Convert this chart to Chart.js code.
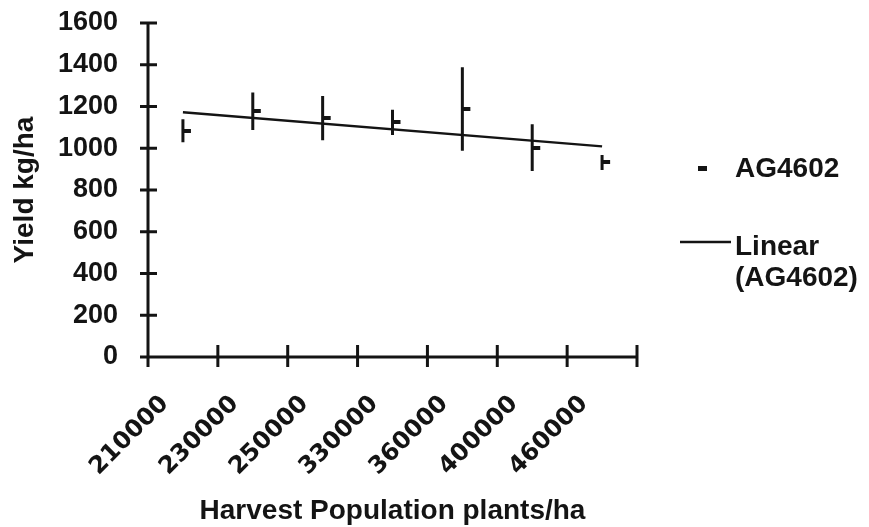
<!DOCTYPE html>
<html>
<head>
<meta charset="utf-8">
<script src="https://cdn.jsdelivr.net/npm/chart.js@4.4.0/dist/chart.umd.min.js"></script>
<style>
  html, body { margin: 0; padding: 0; background: #fff; }
  #wrap { width: 869px; height: 527px; }
</style>
</head>
<body>
<div id="wrap"><canvas id="chart" width="869" height="527"></canvas></div>
<script>
'use strict';

// ---------------------------------------------------------------------------
// データ
// ---------------------------------------------------------------------------

const populations = ['210000', '230000', '250000', '330000', '360000', '400000', '460000'];
const yieldMeans  = [1084, 1177, 1144, 1124, 1188, 1003, 932];
const yieldErrors = [55, 90, 106, 61, 200, 112, 36];
// trendline values read at the first and last population
const trendLabels = ['210000', '460000'];
const trendValues = [1173, 1009];

const yMin = 0, yMax = 1600, yStep = 200;

const INK = '#141414';
const SANS = '"Liberation Sans", Arial, sans-serif';

// ---------------------------------------------------------------------------
// マーカー（点の右に付く短いダッシュ）
// ---------------------------------------------------------------------------

function makeDash() {
    const c = document.createElement('canvas');
    c.width = 18; c.height = 4;
    const g = c.getContext('2d');
    g.fillStyle = INK;
    g.fillRect(9, 0, 8, 4);
    return c;
}

// ---------------------------------------------------------------------------
// プラグイン：軸・誤差棒・凡例
// ---------------------------------------------------------------------------

const axesPlugin = {
    id: 'crossAxes',
    afterDatasetsDraw(chart) {
        const { ctx, chartArea: a } = chart;
        const x = chart.scales.x, y = chart.scales.y;
        const y0 = y.getPixelForValue(0);
        ctx.save();
        ctx.strokeStyle = INK;
        ctx.lineWidth = 3;
        ctx.lineCap = 'butt';

        // y axis + crossing ticks
        ctx.beginPath();
        ctx.moveTo(a.left, y.getPixelForValue(yMax));
        ctx.lineTo(a.left, y0 + 10);
        for (let v = yMin; v <= yMax; v += yStep) {
            const py = y.getPixelForValue(v);
            ctx.moveTo(a.left - 8, py);
            ctx.lineTo(a.left + 9, py);
        }
        // x axis + crossing ticks at category boundaries
        ctx.moveTo(a.left, y0);
        ctx.lineTo(x.right, y0);
        const n = populations.length;
        for (let i = 1; i <= n; i++) {
            const px = x.left + i * x.width / n;
            ctx.moveTo(px, y0 - 12);
            ctx.lineTo(px, y0 + 10);
        }
        ctx.stroke();

        // error bars
        ctx.beginPath();
        yieldMeans.forEach((m, i) => {
            const px = x.getPixelForValue(i);
            ctx.moveTo(px, y.getPixelForValue(m + yieldErrors[i]));
            ctx.lineTo(px, y.getPixelForValue(m - yieldErrors[i]));
        });
        ctx.stroke();
        ctx.restore();
    },
    afterDraw(chart) {
        const { ctx } = chart;
        ctx.save();
        ctx.fillStyle = INK;
        ctx.strokeStyle = INK;
        ctx.font = 'bold 28px ' + SANS;
        ctx.textBaseline = 'middle';
        ctx.textAlign = 'left';

        const ds = chart.data.datasets;
        // series marker
        ctx.fillRect(698, 166, 9, 5);
        ctx.fillText(ds[0].label, 735, 169);
        // trendline entry
        ctx.lineWidth = 2.5;
        ctx.beginPath();
        ctx.moveTo(680, 242);
        ctx.lineTo(731, 242);
        ctx.stroke();
        ctx.fillText('Linear', 735, 247);
        ctx.fillText('(' + ds[0].label + ')', 735, 278);
        ctx.restore();
    },
};

// ---------------------------------------------------------------------------
// チャート
// ---------------------------------------------------------------------------

new Chart(document.getElementById('chart'), {
    type: 'line',
    data: {
        labels: populations,
        datasets: [
            {
                label: 'AG4602',
                data: yieldMeans,
                showLine: false,
                pointStyle: makeDash(),
                pointRadius: 5,
                order: 1,
            },
            {
                label: 'Linear (AG4602)',
                data: trendLabels.map((l, i) => ({ x: l, y: trendValues[i] })),
                borderColor: INK,
                borderWidth: 2.5,
                pointRadius: 0,
                tension: 0,
                fill: false,
                order: 2,
            },
        ],
    },
    options: {
        responsive: false,
        animation: false,
        layout: { padding: { top: 23, right: 232, left: 0, bottom: 0 } },
        plugins: {
            legend: { display: false },
            tooltip: { enabled: false },
        },
        scales: {
            x: {
                type: 'category',
                offset: true,
                grid: { display: false, drawTicks: false, offset: true },
                border: { display: false },
                ticks: {
                    color: INK,
                    font: { family: '"DejaVu Sans", Verdana, sans-serif', weight: 'bold', size: 24 },
                    maxRotation: 45,
                    minRotation: 45,
                    padding: 33,
                    labelOffset: -18,
                    autoSkip: false,
                },
                title: {
                    display: true,
                    text: 'Harvest Population plants/ha',
                    color: INK,
                    font: { family: SANS, weight: 'bold', size: 28, lineHeight: 1.1 },
                    padding: { top: 0, bottom: 0 },
                },
                afterFit: (s) => { s.height = 170; s.paddingLeft = 0; s.paddingRight = 0; },
            },
            y: {
                min: yMin,
                max: yMax,
                grid: { display: false, drawTicks: false },
                border: { display: false },
                ticks: {
                    stepSize: yStep,
                    color: INK,
                    font: { family: SANS, weight: 'bold', size: 27 },
                    padding: 30,
                    callback: (v) => String(v),
                },
                title: {
                    display: true,
                    text: 'Yield kg/ha',
                    color: INK,
                    font: { family: SANS, weight: 'bold', size: 28, lineHeight: 1.2 },
                    padding: { top: 8, bottom: 0 },
                },
                afterFit: (s) => { s.width = 148; s.paddingTop = 0; s.paddingBottom = 0; },
            },
        },
    },
    plugins: [axesPlugin],
});
</script>
</body>
</html>
